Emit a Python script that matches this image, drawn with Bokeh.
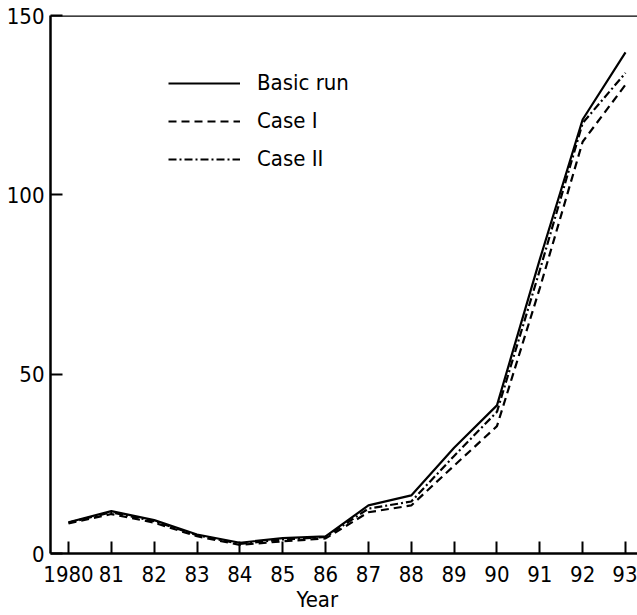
from bokeh.plotting import figure
from bokeh.models import Range1d, FixedTicker, Legend, LegendItem, Span, Title
from bokeh.embed import file_html
from bokeh.resources import INLINE

years = list(range(1980, 1994))
tick_labels = ["1980", "81", "82", "83", "84", "85", "86", "87", "88", "89", "90", "91", "92", "93"]
basic_run = [8.7, 11.8, 9.3, 5.3, 3.0, 4.3, 4.8, 13.4, 16.2, 29.5, 41.3, 82.0, 121.0, 139.7]
case_1 = [8.4, 11.0, 8.6, 4.8, 2.4, 3.4, 4.2, 11.5, 13.4, 24.5, 35.5, 74.0, 114.8, 130.7]
case_2 = [8.6, 11.5, 9.0, 5.1, 2.7, 3.9, 4.6, 12.5, 14.5, 27.2, 39.5, 79.0, 120.0, 134.0]
y_ticks = [0, 50, 100, 150]
x_title = "Year"

FONT = "DejaVu Sans Condensed"

p = figure(width=637, height=615, output_backend="svg", toolbar_location=None,
           x_range=Range1d(1979.58, 1993.28), y_range=Range1d(0, 150),
           min_border_left=50, min_border_right=0, min_border_top=15, min_border_bottom=62)
p.outline_line_color = None
p.grid.visible = False
p.background_fill_color = "white"
p.border_fill_color = "white"

for ax in (p.xaxis[0], p.yaxis[0]):
    ax.axis_line_width = 2.5
    ax.axis_line_color = "black"
    ax.major_tick_in = 12
    ax.major_tick_out = 0
    ax.major_tick_line_width = 2
    ax.major_tick_line_color = "black"
    ax.minor_tick_line_color = None
    ax.major_label_text_font = FONT
    ax.major_label_text_font_size = "22px"
    ax.major_label_text_color = "black"

p.xaxis.ticker = FixedTicker(ticks=years)
p.xaxis.major_label_overrides = {y: t for y, t in zip(years, tick_labels)}
p.xaxis.major_label_standoff = 12
p.yaxis.ticker = FixedTicker(ticks=y_ticks)
p.yaxis.major_label_standoff = 6

p.add_layout(Title(text=x_title, align="left", offset=246, standoff=0,
                   text_font=FONT, text_font_size="22px", text_font_style="normal",
                   text_color="black"), "below")

p.add_layout(Span(location=150, dimension="width", line_color="black", line_width=2.5))

r1 = p.line(years, basic_run, line_color="black", line_width=2.2)
r2 = p.line(years, case_1, line_color="black", line_width=2.2, line_dash="8 5")
r3 = p.line(years, case_2, line_color="black", line_width=2.2, line_dash="8 3 2 3")

legend = Legend(items=[LegendItem(label="Basic run", renderers=[r1]),
                       LegendItem(label="Case I", renderers=[r2]),
                       LegendItem(label="Case II", renderers=[r3])],
                location=(118, 382), orientation="vertical",
                glyph_width=72, glyph_height=20, label_height=20, spacing=13,
                label_standoff=17, padding=0, margin=0,
                border_line_color=None, background_fill_alpha=0,
                label_text_font=FONT, label_text_font_size="22px", label_text_color="black")
p.add_layout(legend)

open("out.html", "w").write(file_html(p, INLINE))
